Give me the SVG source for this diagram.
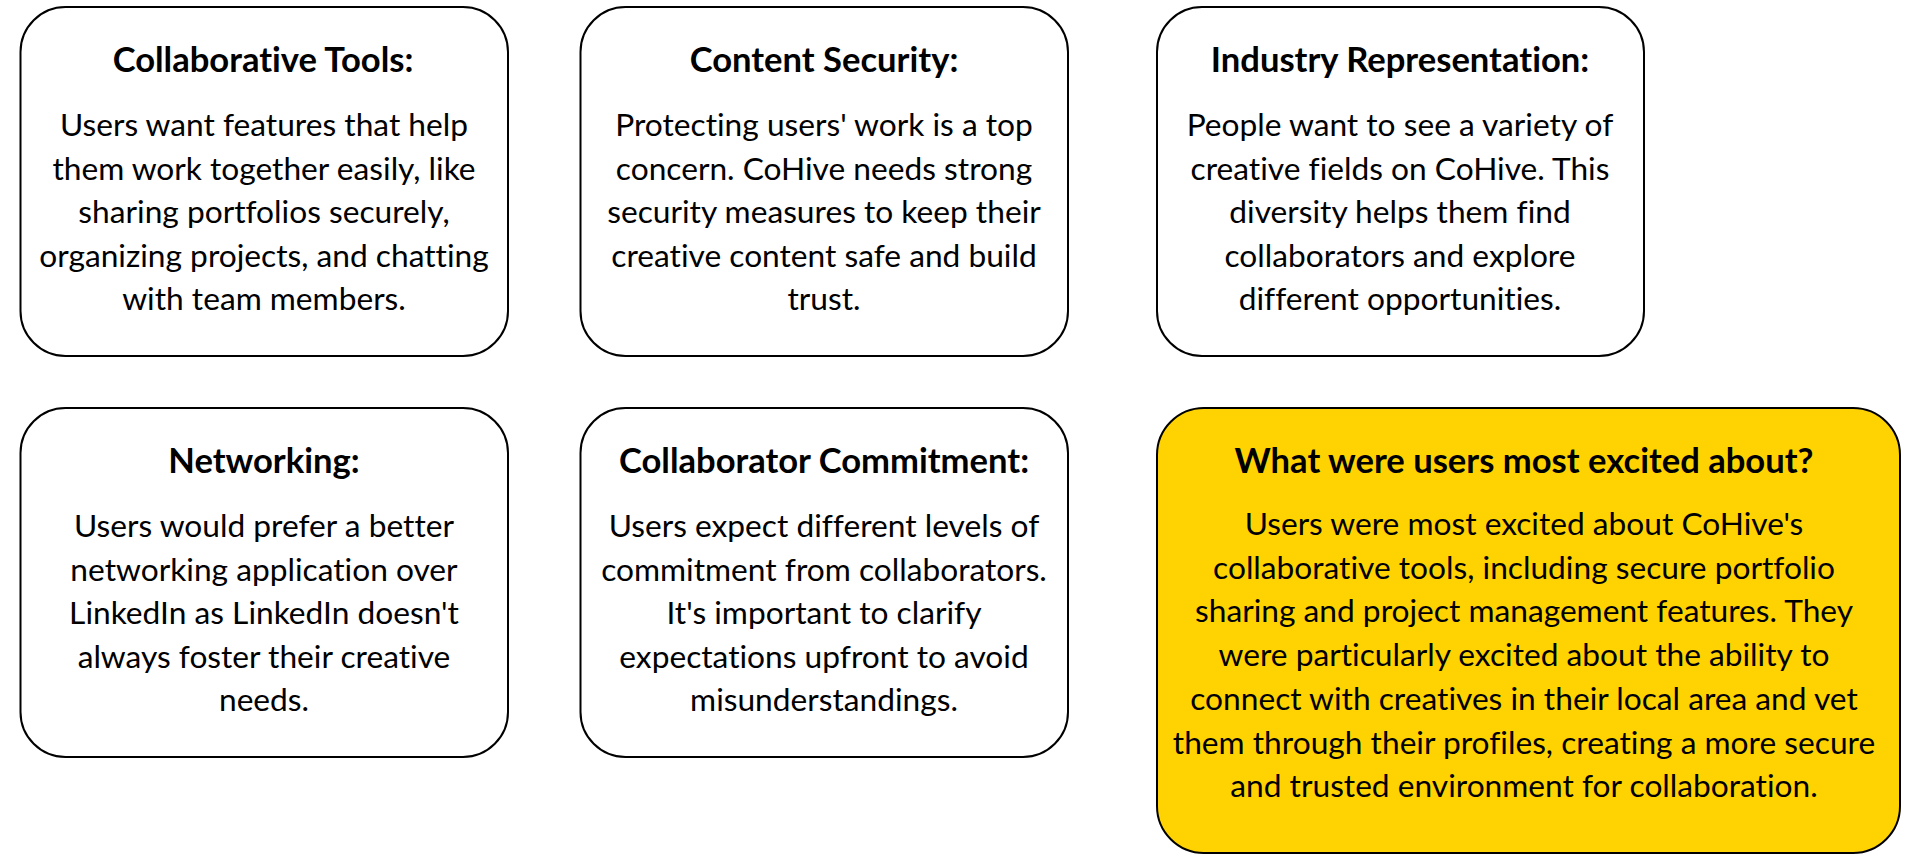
<svg xmlns="http://www.w3.org/2000/svg" width="1916" height="863" viewBox="0 0 1916 863">
<style>
.box{fill:#ffffff;stroke:#000000;stroke-width:2}
.hl{fill:#FFD302;stroke:#000000;stroke-width:2}
.t{font-family:Lato,"Liberation Sans",sans-serif;font-weight:700;font-size:34.6px;fill:#000;text-anchor:middle;font-variant-ligatures:none}
.b{font-family:Lato,"Liberation Sans",sans-serif;font-weight:400;font-size:31.7px;fill:#000;text-anchor:middle;font-variant-ligatures:none}
</style>
<rect width="1916" height="863" fill="#ffffff"/>
<g id="connectors"></g>
<g id="collaborative-tools">
<rect class="box" x="20.5" y="7" width="487.5" height="349" rx="45"/>
<text class="t" x="263" y="72">Collaborative Tools:</text>
<text class="b" x="264" y="136">Users want features that help</text>
<text class="b" x="264" y="179.5">them work together easily, like</text>
<text class="b" x="264" y="223">sharing portfolios securely,</text>
<text class="b" x="264" y="266.5">organizing projects, and chatting</text>
<text class="b" x="264" y="310">with team members.</text>
</g>
<g id="content-security">
<rect class="box" x="580.5" y="7" width="487.5" height="349" rx="45"/>
<text class="t" x="824" y="72">Content Security:</text>
<text class="b" x="824" y="136">Protecting users' work is a top</text>
<text class="b" x="824" y="179.5">concern. CoHive needs strong</text>
<text class="b" x="824" y="223">security measures to keep their</text>
<text class="b" x="824" y="266.5">creative content safe and build</text>
<text class="b" x="824" y="310">trust.</text>
</g>
<g id="industry-representation">
<rect class="box" x="1157" y="7" width="487" height="349" rx="45"/>
<text class="t" x="1400" y="72">Industry Representation:</text>
<text class="b" x="1400" y="136">People want to see a variety of</text>
<text class="b" x="1400" y="179.5">creative fields on CoHive. This</text>
<text class="b" x="1400" y="223">diversity helps them find</text>
<text class="b" x="1400" y="266.5">collaborators and explore</text>
<text class="b" x="1400" y="310">different opportunities.</text>
</g>
<g id="networking">
<rect class="box" x="20.5" y="408" width="487.5" height="349" rx="45"/>
<text class="t" x="264" y="473">Networking:</text>
<text class="b" x="264" y="537">Users would prefer a better</text>
<text class="b" x="264" y="580.5">networking application over</text>
<text class="b" x="264" y="624">LinkedIn as LinkedIn doesn't</text>
<text class="b" x="264" y="667.5">always foster their creative</text>
<text class="b" x="264" y="711">needs.</text>
</g>
<g id="collaborator-commitment">
<rect class="box" x="580.5" y="408" width="487.5" height="349" rx="45"/>
<text class="t" x="824" y="473">Collaborator Commitment:</text>
<text class="b" x="824" y="537">Users expect different levels of</text>
<text class="b" x="824" y="580.5">commitment from collaborators.</text>
<text class="b" x="824" y="624">It's important to clarify</text>
<text class="b" x="824" y="667.5">expectations upfront to avoid</text>
<text class="b" x="824" y="711">misunderstandings.</text>
</g>
<g id="most-excited">
<rect class="hl" x="1157" y="408" width="743" height="445" rx="47"/>
<text class="t" x="1524" y="473">What were users most excited about?</text>
<text class="b" x="1524" y="535">Users were most excited about CoHive's</text>
<text class="b" x="1524" y="578.7">collaborative tools, including secure portfolio</text>
<text class="b" x="1524" y="622.4">sharing and project management features. They</text>
<text class="b" x="1524" y="666.1">were particularly excited about the ability to</text>
<text class="b" x="1524" y="709.8">connect with creatives in their local area and vet</text>
<text class="b" x="1524" y="753.5">them through their profiles, creating a more secure</text>
<text class="b" x="1524" y="797.2">and trusted environment for collaboration.</text>
</g>
</svg>
